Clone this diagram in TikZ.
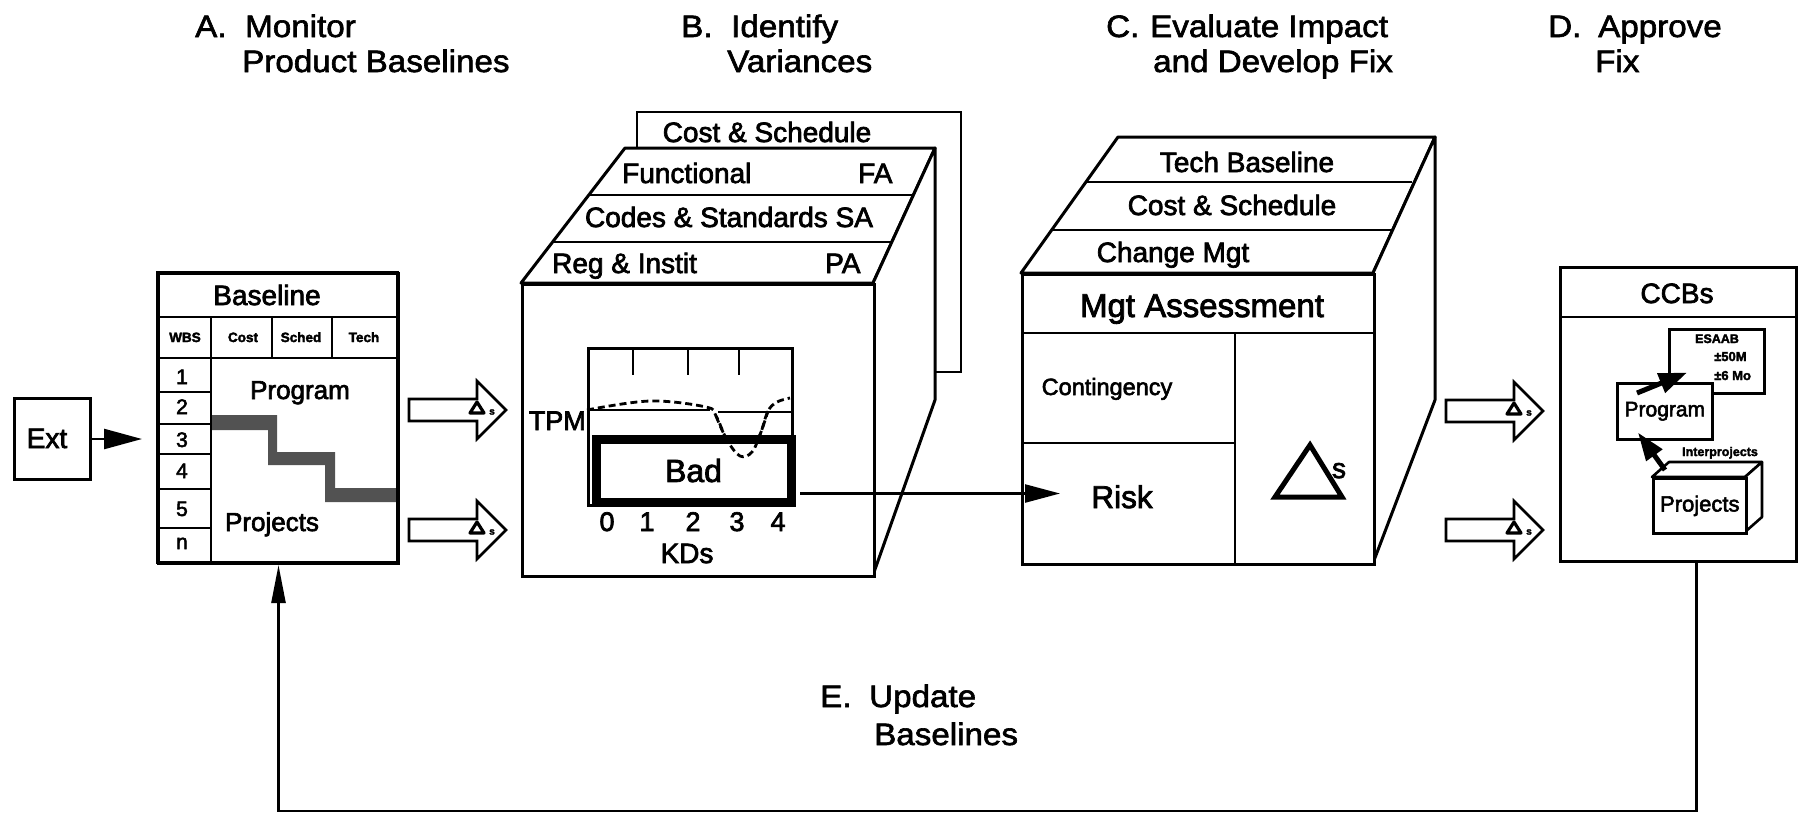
\documentclass[tikz,border=0pt]{standalone}
\usepackage{fontspec}
\setmainfont[FakeBold=2.5]{Liberation Sans}
\newfontfamily\titlefont[FakeStretch=1.07, FakeBold=2]{Liberation Sans}
\usetikzlibrary{arrows.meta,calc}
\newcommand\fsz[1]{\fontsize{#1}{#1}\selectfont}

\tikzset{
  outline/.style={draw, line width=3pt, line join=round, fill=white},
  box/.style={draw, line width=3pt, fill=white, inner sep=0pt, anchor=north west},
  rule/.style={line width=2.4pt},
  title/.style={inner sep=0pt, anchor=base west, font=\titlefont\fsz{31}},
  lab/.style={inner sep=0pt, anchor=base},
  labw/.style={inner sep=0pt, anchor=base west},
  conn/.style={line width=2.4pt},
  band/.style={fill=black!68},
  hollowarrow/.pic={
    \draw[line width=2.6pt, line join=miter, fill=white]
      (0,-11) -- (68,-11) -- (68,-29) -- (97,0) -- (68,29) -- (68,11) -- (0,11) -- cycle;
    \draw[line width=3.2pt, line join=round] (61,3) -- (75,3) -- (68,-8) -- cycle;
    \node[inner sep=0pt, font=\fsz{10}\bfseries] at (83,2) {s};
  }
}

\begin{document}
\begin{tikzpicture}[x=1pt,y=-1pt]
\useasboundingbox (0,0) rectangle (1807,815);
\fill[white] (0,0) rectangle (1807,815);

% ---------- step titles ----------
\node[title] (tA) at (195,37) {A.};
\node[title] (tA1) at (245,37) {Monitor};
\node[title] (tA2) at (242,72) {Product Baselines};
\node[title] (tB) at (681,37) {B.};
\node[title] (tB1) at (731,37) {Identify};
\node[title] (tB2) at (727,72) {Variances};
\node[title] (tC) at (1106,37) {C.};
\node[title] (tC1) at (1150,37) {Evaluate Impact};
\node[title] (tC2) at (1153,72) {and Develop Fix};
\node[title] (tD) at (1548,37) {D.};
\node[title] (tD1) at (1598,37) {Approve};
\node[title] (tD2) at (1595,72) {Fix};
\node[title] (tE) at (820,707) {E.};
\node[title] (tE1) at (869,707) {Update};
\node[title] (tE2) at (874,745) {Baselines};

% ---------- A: external input and baseline table ----------
\node[box, minimum width=76pt, minimum height=81pt] (ext) at (13,397) {};
\node[lab, font=\fsz{28}] at (47,448) {Ext};

\node[box, minimum width=240pt, minimum height=290pt] (tbl) at (157,272) {};
\fill[band] (211,415) -- (277,415) -- (277,452) -- (335,452) -- (335,488)
  -- (397,488) -- (397,502) -- (325,502) -- (325,465) -- (268,465)
  -- (268,430) -- (211,430) -- cycle;
\draw[rule] (157,317) -- (397,317);
\draw[rule] (157,358) -- (397,358);
\draw[rule] (211,317) -- (211,562);
\draw[rule] (272,317) -- (272,358);
\draw[rule] (332,317) -- (332,358);
\foreach \yy in {392,424,454,489,528} \draw[rule] (157,\yy) -- (211,\yy);
\draw[line width=3pt] (157,272) rectangle (397,562);

\node[lab, font=\fsz{28}] at (267,305) {Baseline};
\node[lab, font=\fsz{13.5}\bfseries] at (185,342) {WBS};
\node[lab, font=\fsz{13.5}\bfseries] at (243,342) {Cost};
\node[lab, font=\fsz{13.5}\bfseries] at (301,342) {Sched};
\node[lab, font=\fsz{13.5}\bfseries] at (364,342) {Tech};
\node[lab, font=\fsz{21}] at (182,384) {1};
\node[lab, font=\fsz{21}] at (182,414) {2};
\node[lab, font=\fsz{21}] at (182,447) {3};
\node[lab, font=\fsz{21}] at (182,478) {4};
\node[lab, font=\fsz{21}] at (182,516) {5};
\node[lab, font=\fsz{21}] at (182,549) {n};
\node[lab, font=\fsz{26}] at (300,399) {Program};
\node[lab, font=\fsz{26}] at (272,531) {Projects};

\draw[conn, -{Triangle[length=38pt,width=20pt]}, shorten >=15pt]
  (ext.east) -- (ext.east -| tbl.west);

\pic (arrA1) at (409,410) {hollowarrow};
\pic (arrA2) at (409,530) {hollowarrow};

% ---------- B: variance cube ----------
\draw[line width=2.6pt, fill=white] (637,112) rectangle (961,372);
\node[lab, font=\fsz{28}] (csB) at (767,142) {Cost \& Schedule};
\draw[outline] (521,283) -- (625,148) -- (935,148) -- (873,283) -- cycle;
\draw[outline] (873,283) -- (935,148) -- (935,400) -- (873,575) -- cycle;
\node[box, minimum width=352pt, minimum height=292pt] (cubeB) at (521,283) {};
\draw[rule] (589,195) -- (913,195);
\draw[rule] (553,242) -- (892,242);
\node[labw, font=\fsz{28}] at (622,183) {Functional};
\node[labw, font=\fsz{28}] at (858,183) {FA};
\node[lab, font=\fsz{28}] at (729,227) {Codes \& Standards SA};
\node[labw, font=\fsz{28}] at (552,273) {Reg \& Instit};
\node[labw, font=\fsz{28}] at (825,273) {PA};

% TPM chart
\node[draw, line width=2.6pt, inner sep=0pt, anchor=north west,
      minimum width=204pt, minimum height=157pt] (chart) at (587,347) {};
\foreach \xx in {633,688,739} \draw[rule] (\xx,347) -- (\xx,375);
\draw[rule] (587,410) -- (710,410);
\draw[rule] (718,412) -- (791,412);
\draw[line width=2.8pt, dash pattern=on 7pt off 4pt]
  plot[smooth, tension=0.6] coordinates {(587,410) (650,401) (706,407) (716,416)
  (727,440) (740,456) (752,452) (761,432) (768,411) (777,402) (790,398)};
\node[draw, line width=9pt, fill=white, inner sep=0pt, anchor=north west,
      minimum width=195pt, minimum height=63pt, font=\fsz{32}] (bad) at (591.5,434.5) {Bad};
\draw[line width=2.8pt, dash pattern=on 7pt off 4pt]
  plot[smooth, tension=0.6] coordinates {(716,416) (727,440) (740,456) (752,452) (761,432) (768,411)};
\node[inner sep=0pt, anchor=base east, font=\fsz{27}] (tpm) at (586,430) {TPM};
\node[lab, font=\fsz{27}] at (607,531) {0};
\node[lab, font=\fsz{27}] at (647,531) {1};
\node[lab, font=\fsz{27}] at (693,531) {2};
\node[lab, font=\fsz{27}] at (737,531) {3};
\node[lab, font=\fsz{27}] at (778,531) {4};
\node[lab, font=\fsz{28}] at (687,563) {KDs};

% ---------- C: impact cube ----------
\draw[outline] (1021,273) -- (1118,137) -- (1435,137) -- (1373,273) -- cycle;
\draw[outline] (1373,273) -- (1435,137) -- (1435,400) -- (1373,563) -- cycle;
\node[box, minimum width=352pt, minimum height=290pt] (cubeC) at (1021,273) {};
\draw[rule] (1086,182) -- (1412,182);
\draw[rule] (1052,230) -- (1393,230);
\draw[rule] (1021,333) -- (1373,333);
\draw[rule] (1235,333) -- (1235,563);
\draw[rule] (1021,443) -- (1235,443);
\node[inner sep=0pt, anchor=north west, minimum width=214pt, minimum height=120pt] (riskcell) at (1021,443) {};
\node[lab, font=\fsz{28}] at (1247,172) {Tech Baseline};
\node[lab, font=\fsz{28}] at (1232,215) {Cost \& Schedule};
\node[lab, font=\fsz{28}] at (1173,262) {Change Mgt};
\node[lab, font=\fsz{33}] at (1202,317) {Mgt Assessment};
\node[lab, font=\fsz{23.5}] at (1107,395) {Contingency};
\node[lab, font=\fsz{31.5}] (risk) at (1122,508) {Risk};
\draw[line width=5pt, line join=miter] (1275,497) -- (1342,497) -- (1310,445) -- cycle;
\node[lab, font=\fsz{28}] at (1339,478) {s};

\path ([shift={(4.5,23)}]bad.east) coordinate (badout);
\draw[conn, -{Triangle[length=35pt,width=18pt]}]
  (badout) -- ([shift={(39,0)}]riskcell.west |- badout);

\pic (arrC1) at (1446,411) {hollowarrow};
\pic (arrC2) at (1446,530) {hollowarrow};

% ---------- D: change control boards ----------
\node[box, minimum width=236pt, minimum height=294pt] (ccb) at (1559,266) {};
\draw[rule] (1559,317) -- (1795,317);
\node[lab, font=\fsz{28}] at (1677,303) {CCBs};

\node[box, line width=2.6pt, minimum width=95pt, minimum height=64pt] (esaab) at (1668,328) {};
\node[lab, font=\fsz{12.5}\bfseries] at (1717,343) {ESAAB};
\node[labw, font=\fsz{13}\bfseries] at (1714,361) {±50M};
\node[labw, font=\fsz{13}\bfseries] at (1714,380) {±6 Mo};
\node[box, line width=2.6pt, minimum width=95pt, minimum height=56pt, font=\fsz{21}] (prog) at (1616,382) {Program};

\draw[line width=2.6pt, line join=round, fill=white]
  (1652,477) -- (1669,462) -- (1762,462) -- (1745,477) -- cycle;
\draw[line width=2.6pt, line join=round, fill=white]
  (1745,477) -- (1762,462) -- (1762,517) -- (1745,532) -- cycle;
\node[box, line width=2.6pt, minimum width=93pt, minimum height=55pt, font=\fsz{22}] (pfront) at (1652,477) {Projects};
\node[lab, font=\fsz{12.5}\bfseries] at (1720,456) {Interprojects};

\draw[line width=5pt, -{Triangle[length=28pt,width=20pt]}]
  ([shift={(21,11)}]prog.north west) -- ([shift={(19,-22)}]esaab.south west);
\draw[line width=5pt, -{Triangle[length=28pt,width=19pt]}]
  ([shift={(13,-7)}]pfront.north west) -- ([shift={(22,-8)}]prog.south west);

% ---------- E: feedback to the baselines ----------
\coordinate (rail) at (0,811);
\draw[conn, -{Triangle[length=38pt,width=14pt]}]
  ([shift={(18,0)}]ccb.south) |- (tbl.south |- rail) -- (tbl.south);
\end{tikzpicture}
\end{document}
